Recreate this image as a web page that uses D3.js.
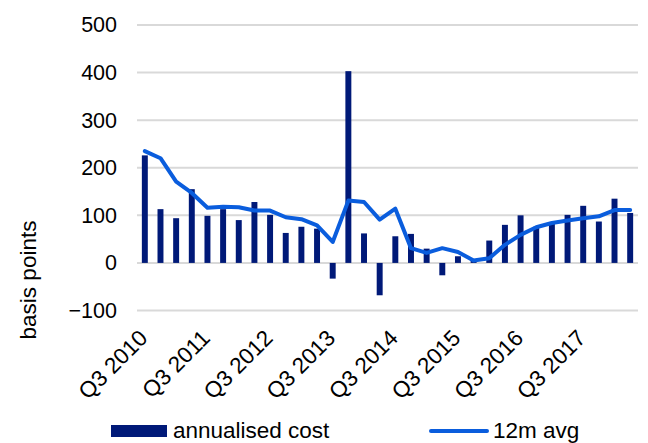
<!DOCTYPE html>
<html>
<head>
<meta charset="utf-8">
<script src="https://cdn.jsdelivr.net/npm/d3@7"></script>
<style>
  html, body { margin: 0; padding: 0; background: #fff; }
  svg text { font-family: "Liberation Sans", Arial, sans-serif; fill: #000; }
</style>
</head>
<body>
<svg id="chart" width="648" height="443"></svg>
<script>
// Quarterly credit cost, basis points
const quarters = [
  "Q3 2010","Q4 2010","Q1 2011","Q2 2011",
  "Q3 2011","Q4 2011","Q1 2012","Q2 2012",
  "Q3 2012","Q4 2012","Q1 2013","Q2 2013",
  "Q3 2013","Q4 2013","Q1 2014","Q2 2014",
  "Q3 2014","Q4 2014","Q1 2015","Q2 2015",
  "Q3 2015","Q4 2015","Q1 2016","Q2 2016",
  "Q3 2016","Q4 2016","Q1 2017","Q2 2017",
  "Q3 2017","Q4 2017","Q1 2018","Q2 2018"
];
const annualisedCost = [
  226, 113, 94, 155, 99, 113, 90, 128,
  101, 63, 76, 72, -33, 403, 62, -68,
  56, 61, 30, -26, 14, 4, 47, 80,
  100, 76, 84, 101, 120, 87, 135, 105
];
const avg12m = [
  235, 220, 171, 147, 116, 118, 117, 110,
  110, 96, 92, 79, 44, 131, 128, 91,
  114, 31, 21, 31, 23, 5, 10, 38,
  59, 75, 84, 89, 94, 98, 111, 111
];
const yTicks = [-100, 0, 100, 200, 300, 400, 500];

const svg = d3.select("#chart");
const plot = { left: 137, right: 638, top: 25, bottom: 310.5 };

const x = d3.scaleBand()
  .domain(quarters)
  .range([plot.left, plot.right])
  .paddingInner(0.62)
  .paddingOuter(0.31);

const y = d3.scaleLinear()
  .domain([-100, 500])
  .range([plot.bottom, plot.top]);

// horizontal gridlines
svg.append("g")
  .selectAll("line")
  .data(yTicks)
  .join("line")
  .attr("x1", plot.left)
  .attr("x2", plot.right)
  .attr("y1", d => y(d))
  .attr("y2", d => y(d))
  .attr("stroke", "#d9d9d9")
  .attr("stroke-width", 2);

// y axis labels
const yAxis = d3.axisLeft(y).tickValues(yTicks).tickSize(0).tickPadding(20);
svg.append("g")
  .attr("transform", `translate(${plot.left},0)`)
  .call(yAxis)
  .call(g => g.select(".domain").remove())
  .call(g => g.selectAll("text")
    .style("font-family", "'Liberation Sans', Arial, sans-serif")
    .style("font-size", "21.5px")
    .attr("fill", "#000"));

svg.append("text")
  .attr("transform", `translate(36,280) rotate(-90)`)
  .attr("text-anchor", "middle")
  .style("font-size", "22.5px")
  .text("basis points");

// bars
svg.append("g")
  .selectAll("rect")
  .data(annualisedCost)
  .join("rect")
  .attr("x", (d, i) => x(quarters[i]))
  .attr("width", x.bandwidth())
  .attr("y", d => y(Math.max(0, d)))
  .attr("height", d => Math.abs(y(d) - y(0)))
  .attr("fill", "#001978");

// 12m average line
const line = d3.line()
  .x((d, i) => x(quarters[i]) + x.bandwidth() / 2)
  .y(d => y(d));
svg.append("path")
  .datum(avg12m)
  .attr("d", line)
  .attr("fill", "none")
  .attr("stroke", "#0a5ddd")
  .attr("stroke-width", 4)
  .attr("stroke-linejoin", "round")
  .attr("stroke-linecap", "round");

// x axis labels, one per year
const shown = quarters.filter(q => q.startsWith("Q3"));
svg.append("g")
  .selectAll("text")
  .data(shown)
  .join("text")
  .attr("transform", d => `translate(${x(d) + x.bandwidth() / 2 + 4},${plot.bottom + 29}) rotate(-45)`)
  .attr("text-anchor", "end")
  .style("font-size", "22.5px")
  .text(d => d);

// legend
const legend = svg.append("g");
legend.append("rect")
  .attr("x", 111).attr("y", 425)
  .attr("width", 56).attr("height", 12)
  .attr("fill", "#001978");
legend.append("text")
  .attr("x", 173).attr("y", 438)
  .style("font-size", "22.5px")
  .text("annualised cost");
legend.append("line")
  .attr("x1", 431).attr("x2", 487)
  .attr("y1", 431).attr("y2", 431)
  .attr("stroke", "#0a5ddd")
  .attr("stroke-width", 4)
  .attr("stroke-linecap", "round");
legend.append("text")
  .attr("x", 493).attr("y", 438)
  .style("font-size", "22.5px")
  .text("12m avg");
</script>
</body>
</html>
